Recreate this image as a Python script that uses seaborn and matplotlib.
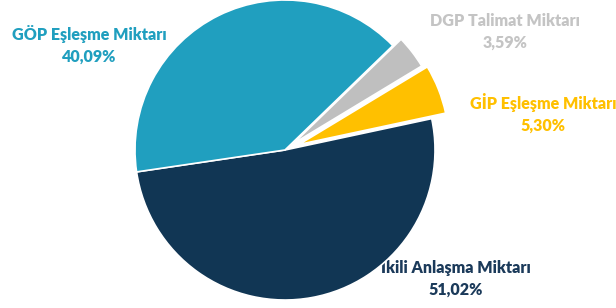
import numpy as np
import matplotlib
matplotlib.use("Agg")
import matplotlib.pyplot as plt
import seaborn as sns

# data (order = drawing order, counter-clockwise)
kategoriler = ["İkili Anlaşma Miktarı", "GİP Eşleşme Miktarı", "DGP Talimat Miktarı", "GÖP Eşleşme Miktarı"]
oranlar = [51.02, 5.30, 3.59, 40.09]
etiketler = ["51,02%", "5,30%", "3,59%", "40,09%"]
renkler = ["#113654", "#FFC000", "#BFBFBF", "#209FBF"]
yazi_renkleri = ["#1B3A5A", "#FFC000", "#C4C4C4", "#209FBF"]

sns.set_style("white")
plt.rcParams["font.family"] = ["Lato", "DejaVu Sans"]

fig = plt.figure(figsize=(6.16, 3.08), dpi=100)
ax = fig.add_axes([0, 0, 1, 1])

# pie center at pixel (285,150), radius 150 px
def px(x, y):
    return (x - 285) / 150, (150 - y) / 150

wedges, _ = ax.pie(oranlar, colors=renkler, startangle=188.4, counterclock=True,
                   explode=[0, 0.1, 0.07, 0], radius=1.0,
                   wedgeprops=dict(edgecolor="white", linewidth=1.2))
for w in wedges:
    w.set_zorder(2)

# label positions (pixel centres of each two-line block)
konumlar = [(456, 277.5), (543, 113), (505, 32), (89.5, 44.5)]
for kat, et, renk, (x, y) in zip(kategoriler, etiketler, yazi_renkleri, konumlar):
    tx, ty = px(x, y)
    ax.text(tx, ty, f"{kat}\n{et}", ha="center", va="center", color=renk,
            fontsize=11.5, fontweight="heavy", linespacing=1.45, zorder=1)

ax.set_xlim(-285 / 150, (616 - 285) / 150)
ax.set_ylim(-158 / 150, 150 / 150)
ax.set_aspect("auto")
ax.axis("off")

fig.savefig("out.png", dpi=100)
